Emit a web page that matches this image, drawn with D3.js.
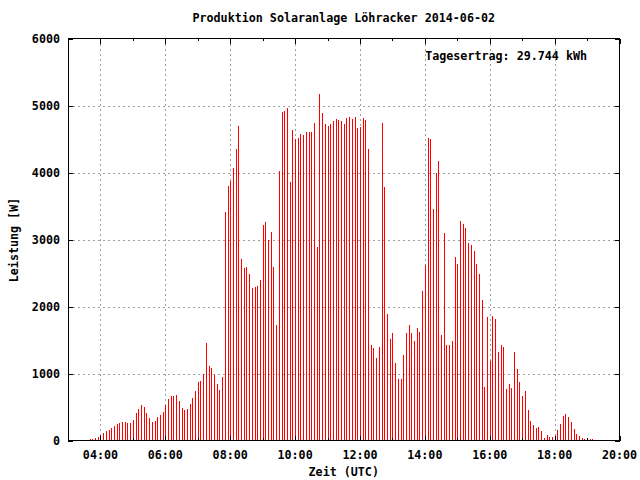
<!DOCTYPE html>
<html>
<head>
<meta charset="utf-8">
<script src="https://cdn.jsdelivr.net/npm/d3@7/dist/d3.min.js"></script>
<style>
  html, body { margin: 0; padding: 0; background: #fff; }
  svg text { font-family: "DejaVu Sans Mono", "Liberation Mono", monospace; font-weight: bold; font-size: 11.7px; fill: #000; }
</style>
</head>
<body>
<svg id="chart" width="640" height="480"></svg>
<script>
// ---- data (5-minute samples, power in W) ----
const times = [
  "03:40","03:45","03:50","03:55",
  "04:00","04:05","04:10","04:15","04:20","04:25","04:30","04:35","04:40","04:45","04:50","04:55",
  "05:00","05:05","05:10","05:15","05:20","05:25","05:30","05:35","05:40","05:45","05:50","05:55",
  "06:00","06:05","06:10","06:15","06:20","06:25","06:30","06:35","06:40","06:45","06:50","06:55",
  "07:00","07:05","07:10","07:15","07:20","07:25","07:30","07:35","07:40","07:45","07:50","07:55",
  "08:00","08:05","08:10","08:15","08:20","08:25","08:30","08:35","08:40","08:45","08:50","08:55",
  "09:00","09:05","09:10","09:15","09:20","09:25","09:30","09:35","09:40","09:45","09:50","09:55",
  "10:00","10:05","10:10","10:15","10:20","10:25","10:30","10:35","10:40","10:45","10:50","10:55",
  "11:00","11:05","11:10","11:15","11:20","11:25","11:30","11:35","11:40","11:45","11:50","11:55",
  "12:00","12:05","12:10","12:15","12:20","12:25","12:30","12:35","12:40","12:45","12:50","12:55",
  "13:00","13:05","13:10","13:15","13:20","13:25","13:30","13:35","13:40","13:45","13:50","13:55",
  "14:00","14:05","14:10","14:15","14:20","14:25","14:30","14:35","14:40","14:45","14:50","14:55",
  "15:00","15:05","15:10","15:15","15:20","15:25","15:30","15:35","15:40","15:45","15:50","15:55",
  "16:00","16:05","16:10","16:15","16:20","16:25","16:30","16:35","16:40","16:45","16:50","16:55",
  "17:00","17:05","17:10","17:15","17:20","17:25","17:30","17:35","17:40","17:45","17:50","17:55",
  "18:00","18:05","18:10","18:15","18:20","18:25","18:30","18:35","18:40","18:45","18:50","18:55",
  "19:00","19:05","19:10"
];
const leistung = [
  15,15,30,45,
  75,105,135,150,180,210,240,255,270,270,255,255,
  300,405,465,525,495,405,330,270,285,345,375,420,
  525,615,660,660,675,585,480,450,465,540,630,735,
  870,885,1000,1450,1105,1075,985,850,760,955,3405,3795,
  3870,4065,4350,4690,2705,2570,2585,2480,2270,2285,2300,2390,
  3210,3255,3000,3105,2585,1720,4020,4900,4915,4960,3855,4630,
  4505,4510,4570,4555,4600,4600,4600,4735,2885,5170,4885,4720,
  4690,4720,4765,4795,4780,4765,4720,4810,4825,4795,4825,4660,
  4675,4810,4780,4350,1420,1375,1225,1390,4735,3780,1895,1510,
  1600,1150,925,925,1270,1600,1720,1600,1480,1675,1615,2225,
  2615,4510,4495,3450,3990,4170,1570,3090,1420,1420,1480,2735,
  2630,3270,3225,3165,2945,2915,2825,2630,2480,2090,805,1850,
  1180,1865,1810,1315,1420,1390,775,850,790,1315,1060,880,
  670,745,450,285,225,180,195,135,30,75,45,45,
  60,150,240,360,390,345,270,165,90,60,30,15,
  30,15,15
];
const xDomain = ["03:00", "20:00"];
const xMajorTicks = ["04:00","06:00","08:00","10:00","12:00","14:00","16:00","18:00","20:00"];
const xMinorTicks = ["05:00","07:00","09:00","11:00","13:00","15:00","17:00","19:00"];
const yTicks = [0, 1000, 2000, 3000, 4000, 5000, 6000];
const titleText = "Produktion Solaranlage Löhracker 2014-06-02";
const xLabel = "Zeit (UTC)";
const yLabel = "Leistung [W]";
const legendText = "Tagesertrag: 29.744 kWh";

// ---- layout ----
const L = 68, R = 619.5, T = 38.5, B = 440.5;
const toMin = s => { const [h, m] = s.split(":").map(Number); return h * 60 + m; };

const svg = d3.select("#chart");
const x = d3.scaleLinear().domain(xDomain.map(toMin)).range([L, R]);
const y = d3.scaleLinear().domain([0, 6000]).range([B, T]);

// grid
const grid = svg.append("g").attr("stroke", "#a0a0a0").attr("stroke-dasharray", "2,3").attr("stroke-width", 1).attr("shape-rendering", "crispEdges");
grid.selectAll("line.gx").data(xMajorTicks.filter(t => t !== "20:00")).join("line")
  .attr("x1", d => Math.round(x(toMin(d))) + 0.5).attr("x2", d => Math.round(x(toMin(d))) + 0.5)
  .attr("y1", T).attr("y2", B);
grid.selectAll("line.gy").data(yTicks.filter(v => v > 0 && v < 6000)).join("line")
  .attr("class", "gy")
  .attr("x1", L).attr("x2", R)
  .attr("y1", d => Math.round(y(d)) + 0.5).attr("y2", d => Math.round(y(d)) + 0.5);

// bars (impulses)
svg.append("g").selectAll("line").data(times.map((t, i) => ({ t: toMin(t), v: leistung[i] }))).join("line")
  .attr("x1", d => Math.round(x(d.t)) + 0.5).attr("x2", d => Math.round(x(d.t)) + 0.5)
  .attr("y1", y(0)).attr("y2", d => y(d.v))
  .attr("stroke", "#ff0000").attr("stroke-width", 1).attr("shape-rendering", "crispEdges");

// axes using d3 axis generators, ticks inward
const fmt = m => d3.format("02d")(Math.floor(m / 60)) + ":" + d3.format("02d")(m % 60);
const gB = svg.append("g").attr("transform", `translate(0,${B})`)
  .call(d3.axisTop(x).tickValues(xMajorTicks.map(toMin)).tickSize(5).tickFormat(""));
const gBm = svg.append("g").attr("transform", `translate(0,${B})`)
  .call(d3.axisTop(x).tickValues(xMinorTicks.map(toMin)).tickSize(2.5).tickFormat(""));
const gT = svg.append("g").attr("transform", `translate(0,${T})`)
  .call(d3.axisBottom(x).tickValues(xMajorTicks.map(toMin)).tickSize(5).tickFormat(""));
const gTm = svg.append("g").attr("transform", `translate(0,${T})`)
  .call(d3.axisBottom(x).tickValues(xMinorTicks.map(toMin)).tickSize(2.5).tickFormat(""));
const gL = svg.append("g").attr("transform", `translate(${L},0)`)
  .call(d3.axisRight(y).tickValues(yTicks).tickSize(5).tickFormat(""));
const gR = svg.append("g").attr("transform", `translate(${R},0)`)
  .call(d3.axisLeft(y).tickValues(yTicks).tickSize(5).tickFormat(""));
[gB, gBm, gT, gTm, gL, gR].forEach(g => {
  g.select(".domain").remove();
  g.selectAll("line").attr("stroke", "#000").attr("shape-rendering", "crispEdges");
});

// frame
svg.append("rect").attr("x", L).attr("y", T).attr("width", R - L).attr("height", B - T)
  .attr("fill", "none").attr("stroke", "#000").attr("stroke-width", 1).attr("shape-rendering", "crispEdges");

// tick labels
svg.append("g").selectAll("text").data(xMajorTicks).join("text")
  .attr("x", d => x(toMin(d))).attr("y", 459).attr("text-anchor", "middle").text(d => fmt(toMin(d)));
svg.append("g").selectAll("text").data(yTicks).join("text")
  .attr("x", 60).attr("y", d => y(d) + 4).attr("text-anchor", "end").text(d => d);

// titles
svg.append("text").attr("x", (L + R) / 2).attr("y", 22).attr("text-anchor", "middle").text(titleText);
svg.append("text").attr("x", (L + R) / 2).attr("y", 476).attr("text-anchor", "middle").text(xLabel);
svg.append("text").attr("transform", "translate(18,240) rotate(-90)").attr("text-anchor", "middle").text(yLabel);
svg.append("text").attr("x", 587).attr("y", 60).attr("text-anchor", "end").text(legendText);
</script>
</body>
</html>
